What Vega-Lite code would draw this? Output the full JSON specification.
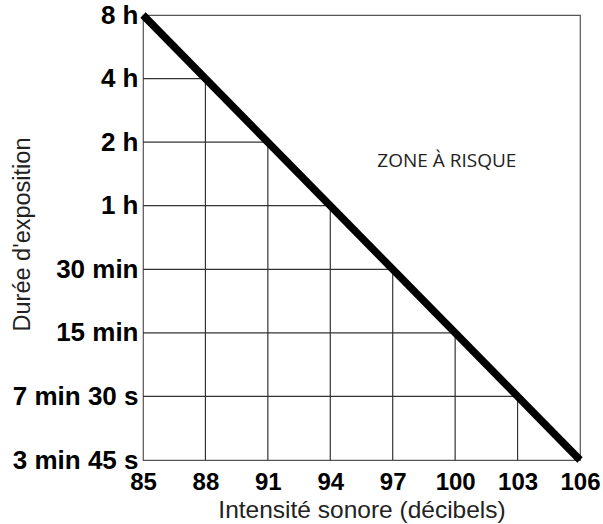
{
  "$schema": "https://vega.github.io/schema/vega-lite/v6.json",
  "width": 437,
  "height": 445,
  "autosize": {"type": "none"},
  "padding": {"left": 143, "top": 15, "right": 23, "bottom": 64},
  "background": "white",
  "config": {
    "view": {"stroke": "#555", "strokeWidth": 1.2},
    "axis": {
      "domain": false,
      "ticks": false,
      "grid": false,
      "labelFont": "Liberation Sans",
      "labelFontWeight": "bold",
      "labelColor": "#000",
      "labelFlush": false,
      "labelOverlap": false,
      "titleFont": "Liberation Sans",
      "titleFontWeight": "normal",
      "titleColor": "#222"
    }
  },
  "datasets": {
    "grid": [
      {"x": 85, "x2": 88, "y": 240, "y2": 240},
      {"x": 85, "x2": 91, "y": 120, "y2": 120},
      {"x": 85, "x2": 94, "y": 60, "y2": 60},
      {"x": 85, "x2": 97, "y": 30, "y2": 30},
      {"x": 85, "x2": 100, "y": 15, "y2": 15},
      {"x": 85, "x2": 103, "y": 7.5, "y2": 7.5},
      {"x": 88, "x2": 88, "y": 3.75, "y2": 240},
      {"x": 91, "x2": 91, "y": 3.75, "y2": 120},
      {"x": 94, "x2": 94, "y": 3.75, "y2": 60},
      {"x": 97, "x2": 97, "y": 3.75, "y2": 30},
      {"x": 100, "x2": 100, "y": 3.75, "y2": 15},
      {"x": 103, "x2": 103, "y": 3.75, "y2": 7.5}
    ],
    "limit": [
      {"x": 85, "y": 480},
      {"x": 106, "y": 3.75}
    ],
    "zone": [
      {"x": 99.6, "y": 97.7, "label": "ZONE À RISQUE"}
    ]
  },
  "layer": [
    {
      "data": {"name": "grid"},
      "mark": {"type": "rule", "color": "#333", "strokeWidth": 1.2},
      "encoding": {
        "x": {
          "field": "x",
          "type": "quantitative",
          "scale": {"domain": [85, 106], "nice": false, "zero": false},
          "axis": {
            "values": [85, 88, 91, 94, 97, 100, 103, 106],
            "labelFontSize": 24,
            "labelPadding": 10,
            "titleFontSize": 24.5,
            "titlePadding": 4
          },
          "title": "Intensité sonore (décibels)"
        },
        "x2": {"field": "x2"},
        "y": {
          "field": "y",
          "type": "quantitative",
          "scale": {"type": "log", "base": 2, "domain": [3.75, 480], "nice": false},
          "axis": {
            "values": [3.75, 7.5, 15, 30, 60, 120, 240, 480],
            "labelFontSize": 26,
            "labelPadding": 5,
            "labelExpr": "datum.value == 480 ? '8 h' : datum.value == 240 ? '4 h' : datum.value == 120 ? '2 h' : datum.value == 60 ? '1 h' : datum.value == 30 ? '30 min' : datum.value == 15 ? '15 min' : datum.value == 7.5 ? '7 min 30 s' : '3 min 45 s'",
            "titleFontSize": 23.5,
            "titleX": -114,
            "titleY": 219,
            "titleBaseline": "alphabetic"
          },
          "title": "Durée d'exposition"
        },
        "y2": {"field": "y2"}
      }
    },
    {
      "data": {"name": "limit"},
      "mark": {"type": "line", "color": "#000", "strokeWidth": 7.5, "strokeCap": "butt"},
      "encoding": {
        "x": {"field": "x", "type": "quantitative"},
        "y": {"field": "y", "type": "quantitative"}
      }
    },
    {
      "data": {"name": "zone"},
      "mark": {"type": "text", "font": "Open Sans", "fontSize": 19, "color": "#222", "align": "center", "baseline": "middle"},
      "encoding": {
        "x": {"field": "x", "type": "quantitative"},
        "y": {"field": "y", "type": "quantitative"},
        "text": {"field": "label"}
      }
    }
  ]
}
